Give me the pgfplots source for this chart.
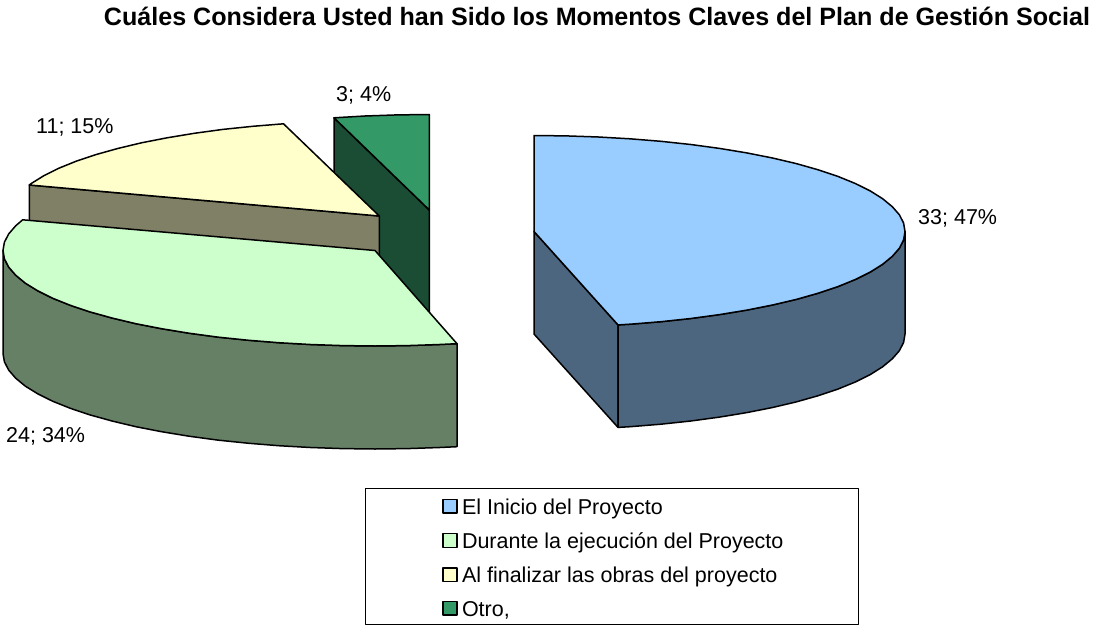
\documentclass[border=0pt]{standalone}
\usepackage{pgfplots}
\pgfplotsset{compat=1.18}
\usepackage{fontspec}
\setmainfont{Liberation Sans}
\definecolor{cBlue}{HTML}{99CCFF}\definecolor{sBlue}{HTML}{4D6680}
\definecolor{cGreen}{HTML}{CCFFCC}\definecolor{sGreen}{HTML}{668066}
\definecolor{cYellow}{HTML}{FFFFCC}\definecolor{sYellow}{HTML}{808066}
\definecolor{cDark}{HTML}{339966}\definecolor{sDark}{HTML}{1A4D33}
\newcommand{\lblfont}{\fontsize{21.5}{25}\selectfont}
\newcommand{\ttlfont}{\fontsize{25.1}{30}\selectfont}
\begin{document}
\begin{tikzpicture}
\useasboundingbox (0,0) rectangle (1098pt,627pt);
\begin{axis}[
  at={(0,0)},anchor=south west,
  scale only axis,width=1098pt,height=627pt,
  xmin=0,xmax=1098,ymin=0,ymax=627,y dir=reverse,
  hide axis,clip=false,
  every axis plot/.append style={draw=black,line width=1.5pt,line join=round},
  title={\textbf{Cuáles Considera Usted han Sido los Momentos Claves del Plan de Gestión Social}},
  title style={at={(axis cs:597,27)},anchor=base,font=\ttlfont,inner sep=0pt,yshift=-4pt},
  reverse legend,
  legend cell align=left,
  legend style={at={(axis cs:442,497)},anchor=north west,draw=none,fill=none,font=\lblfont,
    inner sep=0pt,outer sep=0pt,row sep=12.9pt},
  legend image code/.code={\draw[#1,line width=1.5pt,draw=black] (0pt,-5.7pt) rectangle (14pt,8pt);\path (16.5pt,0pt);},
]
% dark green slice, 3; 4%
\addplot[fill=sDark,forget plot] coordinates {(334,117.8) (429.3,210) (429.3,313) (334,220.8)} --cycle;
\addplot[fill=cDark] coordinates {(429.3,210) (429.3,114.5) (397,114.9) (364.9,116) (334,117.8)} --cycle;
\addlegendentry{Otro,}
% yellow slice, 11; 15%
\addplot[fill=sYellow,forget plot] coordinates {(29.3,185) (379.3,216) (379.3,319) (29.3,288)} --cycle;
\addplot[fill=cYellow] coordinates {(379.3,216) (283.5,123.8) (252.8,126.3) (222.9,129.4) (194.3,133.3) (167.1,137.8) (141.5,142.8) (117.7,148.5) (95.9,154.6) (76.2,161.2) (58.9,168.2) (44,175.6) (31.6,183.3) (29.3,185)} --cycle;
\addlegendentry{Al finalizar las obras del proyecto}
% green slice, 24; 34%
\addplot[fill=sGreen,forget plot] coordinates {(457,343.7) (439.6,344.5) (407.4,345.6) (375,346) (342.6,345.6) (310.4,344.5) (278.7,342.7) (247.8,340.2) (217.8,337.1) (189,333.2) (161.6,328.7) (135.9,323.7) (112,318) (90,311.9) (70.3,305.3) (52.8,298.3) (37.9,290.9) (25.4,283.2) (15.7,275.2) (8.7,267.1) (4.4,258.8) (3,250.5)
 (3,353.5) (4.4,361.8) (8.7,370.1) (15.7,378.2) (25.4,386.2) (37.9,393.9) (52.8,401.3) (70.3,408.3) (90,414.9) (112,421) (135.9,426.7) (161.6,431.7) (189,436.2) (217.8,440.1) (247.8,443.2) (278.7,445.7) (310.4,447.5) (342.6,448.6) (375,449) (407.4,448.6) (439.6,447.5) (457,446.7)} --cycle;
\addplot[fill=cGreen] coordinates {(375,250.5) (457,343.7) (439.6,344.5) (407.4,345.6) (375,346) (342.6,345.6) (310.4,344.5) (278.7,342.7) (247.8,340.2) (217.8,337.1) (189,333.2) (161.6,328.7) (135.9,323.7) (112,318) (90,311.9) (70.3,305.3) (52.8,298.3) (37.9,290.9) (25.4,283.2) (15.7,275.2) (8.7,267.1) (4.4,258.8) (3,250.5) (4.4,242.2) (8.7,233.9) (15.7,225.8) (22.7,219.8)} --cycle;
\addlegendentry{Durante la ejecución del Proyecto}
% blue slice, 33; 47%
\addplot[fill=sBlue,forget plot] coordinates {(534,231.5) (618,324.9) (618,427.4) (534,334)} --cycle;
\addplot[fill=sBlue,forget plot] coordinates {(905,231.5) (903.6,239.9) (899.4,248.2) (892.3,256.3) (882.6,264.3) (870.2,272.1) (855.3,279.5) (837.9,286.6) (818.2,293.2) (796.3,299.4) (772.5,305) (746.8,310.1) (719.5,314.6) (690.8,318.5) (660.9,321.7) (630,324.2) (618,324.9)
 (618,427.4) (630,426.7) (660.9,424.2) (690.8,421) (719.5,417.1) (746.8,412.6) (772.5,407.5) (796.3,401.9) (818.2,395.7) (837.9,389.1) (855.3,382) (870.2,374.6) (882.6,366.8) (892.3,358.8) (899.4,350.7) (903.6,342.4) (905,334)} --cycle;
\addplot[fill=cBlue] coordinates {(534,231.5) (534,135.5) (566.4,135.9) (598.4,137) (630,138.8) (660.9,141.3) (690.8,144.5) (719.5,148.4) (746.8,152.9) (772.5,158) (796.3,163.6) (818.2,169.8) (837.9,176.4) (855.3,183.5) (870.2,190.9) (882.6,198.7) (892.3,206.7) (899.4,214.8) (903.6,223.1) (905,231.5) (903.6,239.9) (899.4,248.2) (892.3,256.3) (882.6,264.3) (870.2,272.1) (855.3,279.5) (837.9,286.6) (818.2,293.2) (796.3,299.4) (772.5,305) (746.8,310.1) (719.5,314.6) (690.8,318.5) (660.9,321.7) (630,324.2) (618,324.9)} --cycle;
\addlegendentry{El Inicio del Proyecto}
% legend frame
\addplot[fill=none,line width=1pt,forget plot] coordinates {(365,488.5) (858,488.5) (858,624.5) (365,624.5)} --cycle;
% data labels
\node[anchor=base west,inner sep=0pt,font=\lblfont] at (axis cs:918,224.5) {33; 47\%};
\node[anchor=base west,inner sep=0pt,font=\lblfont] at (axis cs:6,442) {24; 34\%};
\node[anchor=base west,inner sep=0pt,font=\lblfont] at (axis cs:36,133) {11; 15\%};
\node[anchor=base west,inner sep=0pt,font=\lblfont] at (axis cs:336,101) {3; 4\%};
\end{axis}
\end{tikzpicture}
\end{document}
